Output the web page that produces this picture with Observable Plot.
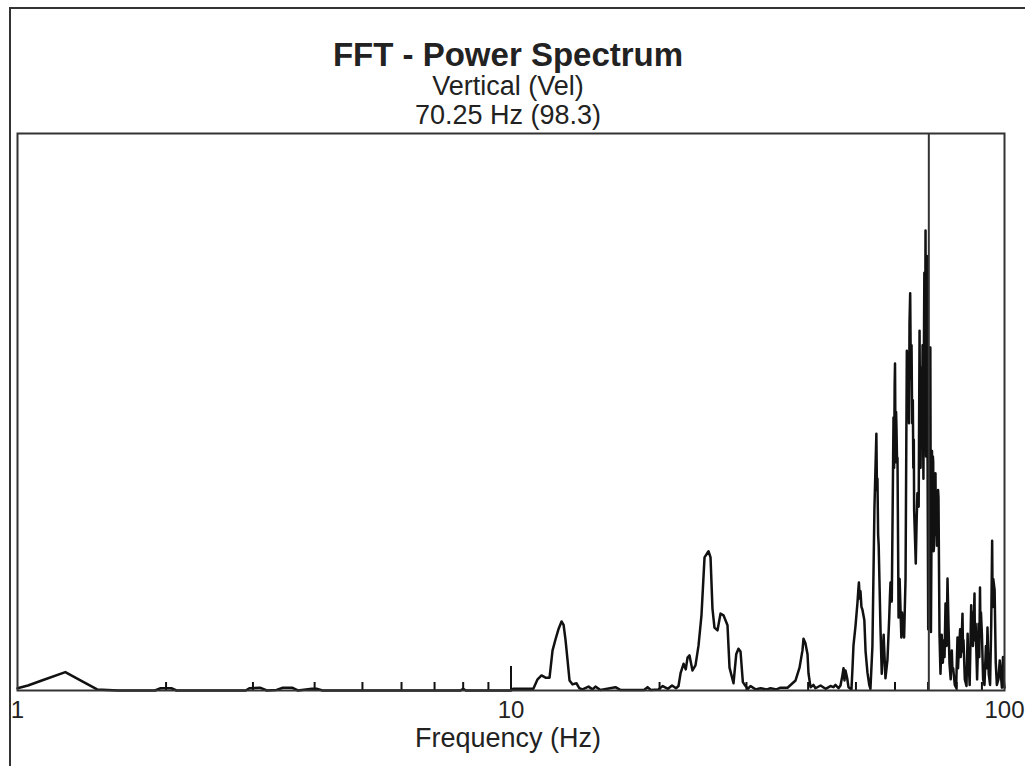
<!DOCTYPE html>
<html><head><meta charset="utf-8">
<script src="https://cdn.jsdelivr.net/npm/d3@7"></script>
<script src="https://cdn.jsdelivr.net/npm/@observablehq/plot@0.6"></script>
<style>
body{margin:0;background:#fff;width:1025px;height:766px;overflow:hidden;font-family:"Liberation Sans",Arial,sans-serif;}
#wrap{position:relative;width:1025px;height:766px;}
#chart{position:absolute;left:0;top:0;}
#border{position:absolute;left:9px;top:7px;width:1030px;height:770px;border-top:2px solid #333;border-left:2px solid #333;}
.t{position:absolute;left:0;width:1016px;text-align:center;color:#222;white-space:nowrap;line-height:1;}
</style></head><body>
<div id="wrap">
<div id="chart"></div>
<div id="border"></div>
<div class="t" id="title" style="top:38px;font-size:33px;font-weight:bold">FFT - Power Spectrum</div>
<div class="t" id="sub1" style="top:73px;font-size:27px">Vertical (Vel)</div>
<div class="t" id="sub2" style="top:102px;font-size:27px">70.25 Hz (98.3)</div>
<div class="t" id="xlabel" style="top:725px;font-size:27px">Frequency (Hz)</div>
</div>
<script>
// ---- data (frequency in Hz, power as % of plot height) ----
const freqHz = [
 1.00,1.05,1.12,1.25,1.35,1.45,1.6,1.9,1.95,2.05,2.1,2.9,2.95,3.1,3.2,3.35,3.45,3.6,3.7,3.95,4.05,4.15,7.9,8.0,8.1,10.0,10.1,11.10,
 11.32,11.53,11.75,11.97,12.14,12.31,12.49,12.66,12.78,12.90,13.02,13.14,13.32,13.57,13.76,13.96,14.36,14.63,14.83,15.18,16.28,16.65,18.6,18.91,19.2,19.9,
 20.3,20.8,21.2,21.6,21.85,22.06,22.37,22.6,22.79,23.00,23.32,23.65,23.99,24.32,24.67,25.13,25.37,25.60,25.84,26.21,26.58,26.95,27.46,27.72,28.24,28.6,28.9,29.18,29.5,29.87,
 30.2,30.57,31.3,32.03,33.0,33.56,34.5,35.17,36.34,37.72,38.43,38.96,39.15,39.5,39.89,40.07,40.45,41.0,41.40,42.39,43.39,44.41,
 45.03,45.45,46.09,46.52,46.9,47.18,47.4,47.62,48.0,48.29,48.97,49.2,49.43,49.89,50.36,50.55,50.70,50.9,51.07,51.3,51.54,52.0,52.3,52.76,53.2,53.50,
 54.0,54.51,55.0,55.15,55.28,55.45,55.6,56.06,56.4,56.9,57.38,57.92,58.40,58.6,58.75,59.1,59.58,59.75,59.9,60.0,60.15,60.3,60.41,60.55,60.7,61.0,61.3,61.8,62.0,62.2,62.6,63.02,
 63.40,63.55,63.7,63.9,64.05,64.2,64.4,64.6,64.81,65.0,65.2,65.35,65.5,65.6,66.1,66.35,66.6,67.0,67.28,67.45,67.6,67.75,67.9,68.05,68.23,68.5,68.65,68.8,69.0,69.18,69.35,69.5,69.6,69.75,69.85,70.05,70.3,70.75,70.95,
 71.3,71.45,71.6,71.7,71.85,72.0,72.2,72.47,72.6,72.8,73.0,73.2,73.35,73.49,73.84,74.18,74.6,75.0,75.4,75.6,75.94,76.1,76.3,76.65,77.0,77.37,77.8,78.2,78.45,78.7,79.3,79.8,80.3,80.5,80.69,
 81.3,81.5,81.8,82.2,82.4,82.59,83.1,83.75,84.2,84.4,84.53,85.0,85.6,85.8,86.13,86.3,86.5,86.94,87.1,87.4,88.0,88.6,88.9,89.2,89.4,89.6,90.0,90.5,91.08,91.7,92.0,92.37,92.9,93.5,
 94.0,94.4,94.6,94.9,95.5,96.0,96.5,97.2,97.8,98.3,98.8,99.3,99.7,100.0
];
const power = [
 0.4,0.9,1.8,3.3,1.7,0.2,0.0,0.0,0.4,0.4,0.0,0.0,0.4,0.5,0.0,0.1,0.5,0.5,0.0,0.3,0.3,0.0,0.0,0.3,0.0,0.0,0.3,0.3,
 2.0,2.7,2.3,2.3,7.2,9.2,11.1,12.4,11.8,9.0,5.4,1.8,1.1,1.3,0.4,0.2,0.7,0.2,0.7,0.1,0.6,0.1,0.1,0.6,0.1,0.2,
 0.8,0.3,0.9,0.4,0.8,3.1,4.8,3.8,5.9,6.3,3.6,4.5,8.1,13.5,23.9,25.0,23.9,14.7,11.3,10.8,13.8,13.5,11.7,4.1,1.3,6.5,7.5,7.0,1.5,0.8,
 0.3,0.8,0.2,0.4,0.2,0.4,0.2,0.5,0.5,1.8,4.1,7.2,9.3,8.5,6.5,3.1,0.6,1.0,0.4,0.9,0.3,0.8,
 0.6,1.0,0.4,0.9,2.5,4.0,1.8,3.6,2.2,0.6,0.2,4.0,8.1,11.5,15.8,18.0,19.4,16.5,17.8,15.0,14.5,12.6,7.0,3.2,1.0,0.3,
 8.0,32.9,46.1,36.0,38.0,28.0,26.0,11.3,3.0,10.0,2.2,5.5,13.1,17.0,19.4,16.0,49.0,40.0,55.0,58.7,41.0,50.0,47.0,42.0,41.7,13.1,20.0,9.5,14.0,12.0,9.5,20.1,
 61.0,50.0,58.0,55.0,48.0,66.0,71.3,56.0,62.0,48.0,52.1,40.0,45.0,32.3,22.8,30.0,35.4,33.0,64.6,45.0,40.0,52.0,58.0,44.0,62.0,38.0,60.0,75.0,50.0,82.6,42.0,70.0,78.0,48.0,41.0,11.0,61.6,61.6,10.5,
 43.0,30.0,42.0,41.0,25.0,26.0,38.0,39.0,28.0,30.0,26.0,28.0,36.0,34.7,10.0,3.0,10.0,5.0,9.0,6.0,15.6,9.0,8.0,20.1,12.0,4.8,2.0,7.2,3.5,4.0,1.0,0.5,9.5,4.0,6.0,
 11.0,6.0,8.0,13.8,7.0,9.0,2.0,0.8,10.2,5.0,6.0,1.0,15.3,9.0,14.0,8.0,10.0,17.4,9.0,12.0,2.0,12.0,6.0,18.5,10.0,14.0,10.0,2.0,1.0,8.0,4.0,11.3,3.0,1.0,
 12.0,26.9,15.0,20.0,18.0,5.0,1.0,2.0,5.4,3.0,0.5,6.0,1.5,0.5
];
const xTickLabels = [1, 10, 100];
const minorTicks = [2,3,4,5,6,7,8,9,20,30,40,50,60,70,80,90];
const majorTicks = [10];
const cursorHz = [70.25];

const spectrum = freqHz.map((f, i) => ({f, p: power[i]}));

const W = 1025, H = 766, mT = 133, mB = 76, mL = 17, mR = 21;
const plotH = H - mT - mB;

const chart = Plot.plot({
  width: W, height: H,
  marginTop: mT, marginBottom: mB, marginLeft: mL, marginRight: mR,
  style: {fontSize: "24px", fontFamily: "'Liberation Sans', Arial, sans-serif", color: "#222", background: "transparent"},
  x: {type: "log", domain: [1, 100], axis: null},
  y: {domain: [0, 100], axis: null},
  marks: [
    Plot.ruleX(minorTicks, {x: d => d, insetTop: plotH - 8, stroke: "#111", strokeWidth: 2}),
    Plot.ruleX(majorTicks, {x: d => d, insetTop: plotH - 24, stroke: "#111", strokeWidth: 2}),
    Plot.line(spectrum, {x: "f", y: "p", stroke: "#111", strokeWidth: 2.5}),
    Plot.ruleX(cursorHz, {x: d => d, stroke: "#333", strokeWidth: 2}),
    Plot.frame({stroke: "#333", strokeWidth: 2}),
    Plot.axisX(xTickLabels, {tickSize: 0, tickPadding: 10, tickFormat: d => String(d), fill: "#222", label: null})
  ]
});
document.getElementById("chart").appendChild(chart);
</script>
</body></html>
